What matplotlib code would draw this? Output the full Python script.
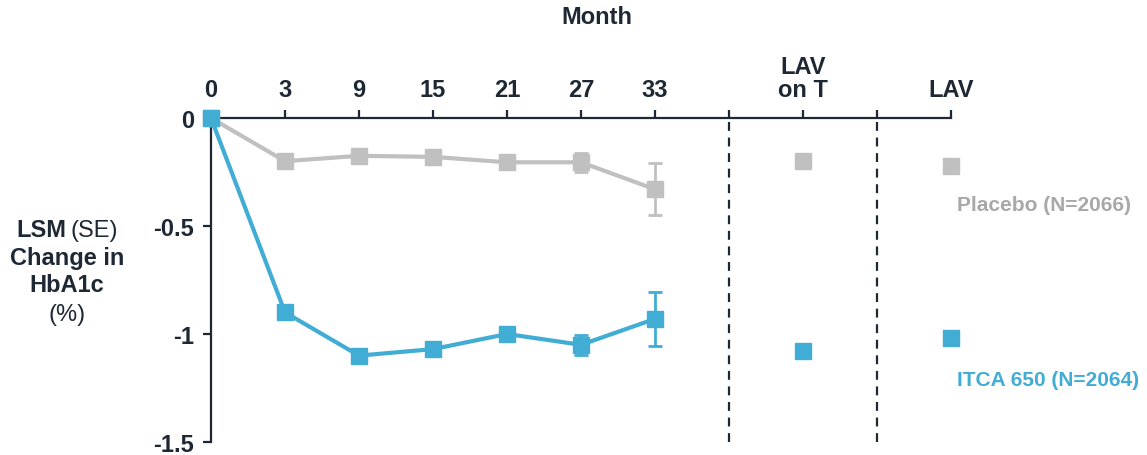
import matplotlib.pyplot as plt

W, H = 1147, 456
BLUE = "#41acd4"
GREY = "#c0c0c0"
DARK = "#1e2835"

plt.rcParams["font.family"] = ["Liberation Sans", "DejaVu Sans"]

# visit labels along the top axis; dashed separators sit between the groups
visits = ["0", "3", "9", "15", "21", "27", "33"]
extra_visits = ["LAV\non T", "LAV"]

placebo = [0, -0.20, -0.175, -0.18, -0.205, -0.205, -0.33]
placebo_se = [0, 0.02, 0.02, 0.02, 0.02, 0.045, 0.12]
placebo_extra = [-0.20, -0.22]

itca = [0, -0.90, -1.10, -1.07, -1.00, -1.05, -0.93]
itca_se = [0, 0.02, 0.02, 0.02, 0.025, 0.045, 0.125]
itca_extra = [-1.08, -1.02]

yticks = [0, -0.5, -1, -1.5]
ytick_labels = ["0", "-0.5", "-1", "-1.5"]

fig = plt.figure(figsize=(W / 100, H / 100), dpi=100)
ax = fig.add_axes([211 / W, 1 - 443 / H, (951 - 211) / W, (443 - 119) / H])

x_main = list(range(len(visits)))
x_extra = [len(visits) + 1, len(visits) + 3]
x_dash = [len(visits), len(visits) + 2]

for vals, se, extra, col, z in [(placebo, placebo_se, placebo_extra, GREY, 3),
                                (itca, itca_se, itca_extra, BLUE, 4)]:
    ax.errorbar(x_main, vals, yerr=se, color=col, lw=3, marker="s", ms=11.5,
                elinewidth=2, capsize=5, capthick=2, clip_on=False, zorder=z)
    ax.plot(x_extra, extra, ls="none", marker="s", ms=11.5, color=col,
            clip_on=False, zorder=z)

for xd in x_dash:
    ax.axvline(xd, color=DARK, lw=1.6, ls=(0, (4, 3)), zorder=1)

ax.set_xlim(0, x_extra[-1])
ax.set_ylim(-1.5, 0)

ax.xaxis.tick_top()
ax.set_xticks(x_main + x_extra + x_dash)
ax.set_xticklabels(visits + extra_visits + ["", ""])
ax.set_yticks(yticks)
ax.set_yticklabels(ytick_labels)
ax.tick_params(axis="both", colors=DARK, width=1.6, length=6, labelsize=17,
               pad=6)
for lbl in ax.get_xticklabels() + ax.get_yticklabels():
    lbl.set_fontweight("bold")
    lbl.set_linespacing(1.0)

for side in ["right", "bottom"]:
    ax.spines[side].set_visible(False)
for side in ["left", "top"]:
    ax.spines[side].set_color(DARK)
    ax.spines[side].set_linewidth(1.6)


def ftext(px, py, s, size=17, **kw):
    fig.text(px / W, 1 - py / H, s, va="center", fontsize=size, **kw)


ftext(597, 17, "Month", ha="center", color=DARK, fontweight="bold")

# y axis title, mixed weights
ftext(66, 231, "LSM", ha="right", color=DARK, fontweight="bold")
ftext(71, 231, "(SE)", ha="left", color=DARK)
ftext(67, 258, "Change in", ha="center", color=DARK, fontweight="bold")
ftext(67, 286, "HbA1c", ha="center", color=DARK, fontweight="bold")
ftext(67, 315, "(%)", ha="center", color=DARK)

ftext(957, 206, "Placebo (N=2066)", size=15, ha="left", color="#a8a8a8",
      fontweight="bold")
ftext(957, 380, "ITCA 650 (N=2064)", size=15, ha="left", color=BLUE,
      fontweight="bold")

fig.savefig("out.png", dpi=100)
